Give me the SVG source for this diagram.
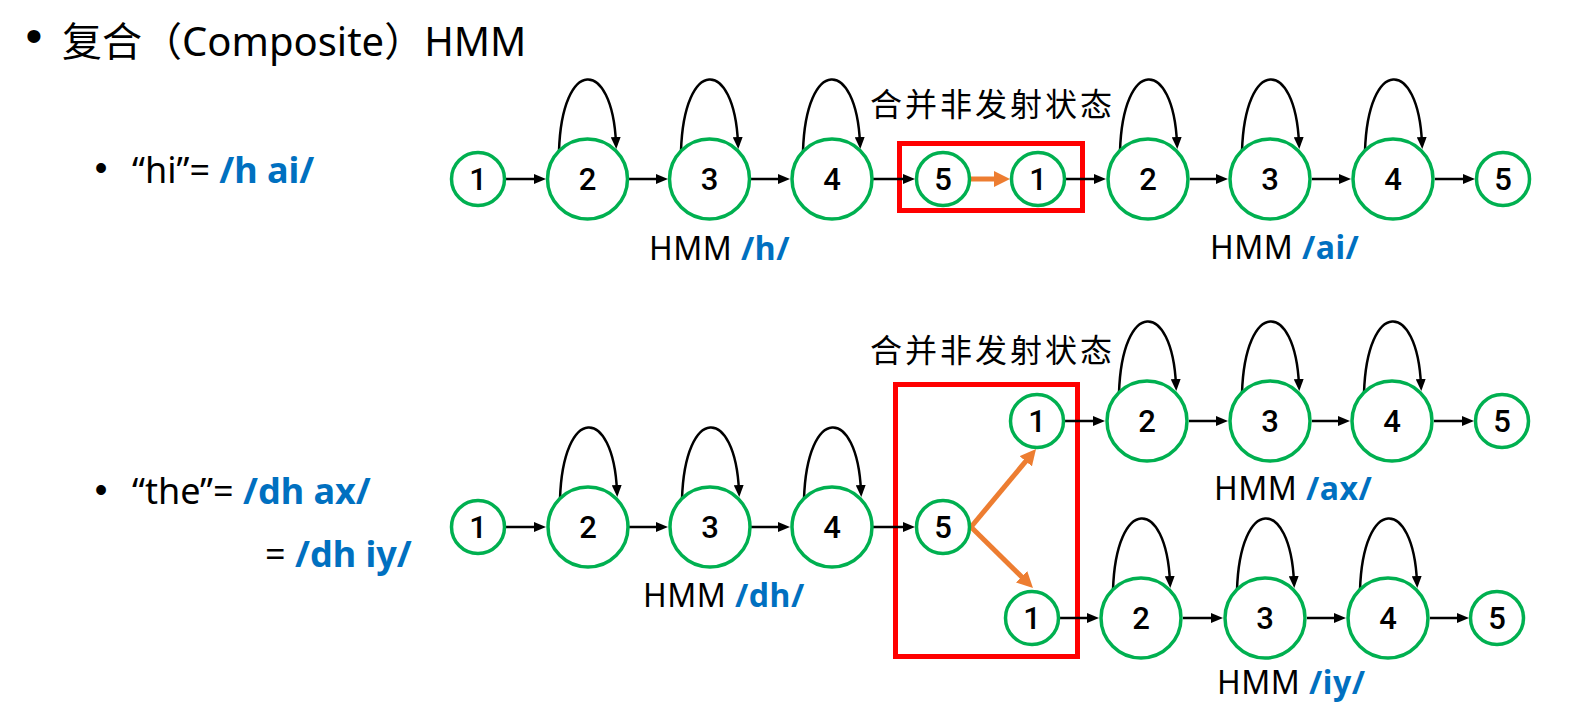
<svg xmlns="http://www.w3.org/2000/svg" width="1573" height="723" viewBox="0 0 1573 723">
<style>
.n{fill:#fff;stroke:#00B050;stroke-width:3.5}
.t{font-family:Roboto,"Liberation Sans",Arial,sans-serif;font-weight:500;font-size:31px;fill:#000;text-anchor:middle}
.e{stroke:#000;stroke-width:2.5;fill:none;marker-end:url(#ab)}
.o{stroke:#ED7D31;stroke-width:5;fill:none;marker-end:url(#ao)}
.box{fill:none;stroke:#FF0000;stroke-width:5}
.tx{font-family:"Noto Sans","Noto Sans CJK SC",sans-serif;fill:#000}
.bu{font-family:"Liberation Sans",Arial,sans-serif;fill:#000;text-anchor:middle}
.cj{font-family:"Noto Sans CJK SC",sans-serif;fill:#000}
.b{fill:#0070C0;font-weight:bold}
.h{font-size:32px;letter-spacing:0.5px}
</style>
<defs>
<marker id="ab" viewBox="0 0 12 10" refX="6" refY="5" markerWidth="12" markerHeight="10" markerUnits="userSpaceOnUse" orient="auto"><path d="M0,0 L12,5 L0,10 z" fill="#000"/></marker>
<marker id="ao" viewBox="0 0 16 16" refX="8" refY="8" markerWidth="16" markerHeight="16" markerUnits="userSpaceOnUse" orient="auto"><path d="M0,0 L16,8 L0,16 z" fill="#ED7D31"/></marker>
</defs>
<rect width="1573" height="723" fill="#fff"/>

<g id="title">
<text class="bu" x="34" y="52" font-size="48">•</text>
<text class="tx" x="62" y="56" font-size="40"><tspan class="cj">复合（</tspan>Composite<tspan class="cj">）</tspan>HMM</text>
</g>
<g id="bullets">
<text class="bu" x="101" y="180" font-size="36">•</text>
<text class="tx" x="132" y="183" font-size="36">“hi”= <tspan class="b">/h ai/</tspan></text>
<text class="bu" x="101" y="502" font-size="36">•</text>
<text class="tx" x="132" y="504" font-size="36">“the”= <tspan class="b">/dh ax/</tspan></text>
<text class="tx" x="265" y="567" font-size="36">= <tspan class="b">/dh iy/</tspan></text>
</g>

<g id="boxes">
<rect class="box" x="899.5" y="143.5" width="183" height="67"/>
<rect class="box" x="895.5" y="384.5" width="182" height="272"/>
</g>

<g id="labels">
<text class="cj" x="870" y="116" font-size="32" letter-spacing="3">合并非发射状态</text>
<text class="cj" x="870" y="362" font-size="32" letter-spacing="3">合并非发射状态</text>
<text class="tx h" x="649" y="260">HMM <tspan class="b">/h/</tspan></text>
<text class="tx h" x="1210" y="259">HMM <tspan class="b">/ai/</tspan></text>
<text class="tx h" x="643" y="607">HMM <tspan class="b">/dh/</tspan></text>
<text class="tx h" x="1214" y="500">HMM <tspan class="b">/ax/</tspan></text>
<text class="tx h" x="1217" y="694">HMM <tspan class="b">/iy/</tspan></text>
</g>

<g id="connectors">
<!-- row 1 -->
<path class="e" d="M506,179 H540"/>
<path class="e" d="M629,179 H662"/>
<path class="e" d="M751,179 H784"/>
<path class="e" d="M873,179 H909"/>
<path class="o" d="M971,179 H1002"/>
<path class="e" d="M1066,179 H1100"/>
<path class="e" d="M1190,179 H1222"/>
<path class="e" d="M1312,179 H1345"/>
<path class="e" d="M1435,179 H1469"/>
<path class="e" d="M559,151 C562,57 612,57 616,143"/>
<path class="e" d="M681,151 C684,57 734,57 738,143"/>
<path class="e" d="M803,151 C806,57 856,57 860,143"/>
<path class="e" d="M1120,151 C1123,57 1173,57 1177,143"/>
<path class="e" d="M1242,151 C1245,57 1295,57 1299,143"/>
<path class="e" d="M1365,151 C1368,57 1418,57 1422,143"/>
<!-- row 2 main -->
<path class="e" d="M506,527 H540"/>
<path class="e" d="M629,527 H662"/>
<path class="e" d="M751,527 H784"/>
<path class="e" d="M873,527 H909"/>
<path class="o" d="M971,527 L1030.9,455.1"/>
<path class="o" d="M971,527 L1027.3,582.4"/>
<path class="e" d="M560,499 C563,405 613,405 617,491"/>
<path class="e" d="M682,499 C685,405 735,405 739,491"/>
<path class="e" d="M804,499 C807,405 857,405 861,491"/>
<!-- upper branch -->
<path class="e" d="M1065,421 H1099"/>
<path class="e" d="M1189,421 H1222"/>
<path class="e" d="M1312,421 H1344"/>
<path class="e" d="M1434,421 H1468"/>
<path class="e" d="M1119,393 C1122,299 1172,299 1176,385"/>
<path class="e" d="M1242,393 C1245,299 1295,299 1299,385"/>
<path class="e" d="M1364,393 C1367,299 1417,299 1421,385"/>
<!-- lower branch -->
<path class="e" d="M1060,618 H1093"/>
<path class="e" d="M1183,618 H1217"/>
<path class="e" d="M1307,618 H1340"/>
<path class="e" d="M1430,618 H1463"/>
<path class="e" d="M1113,590 C1116,496 1166,496 1170,582"/>
<path class="e" d="M1237,590 C1240,496 1290,496 1294,582"/>
<path class="e" d="M1360,590 C1363,496 1413,496 1417,582"/>
</g>

<g id="r1n1"><circle class="n" cx="478" cy="179" r="26.5"/><text class="t" x="478" y="190">1</text></g>
<g id="r1n2"><circle class="n" cx="587.5" cy="179" r="40"/><text class="t" x="587.5" y="190">2</text></g>
<g id="r1n3"><circle class="n" cx="709.5" cy="179" r="40"/><text class="t" x="709.5" y="190">3</text></g>
<g id="r1n4"><circle class="n" cx="832" cy="179" r="40"/><text class="t" x="832" y="190">4</text></g>
<g id="r1n5"><circle class="n" cx="943" cy="179" r="26.5"/><text class="t" x="943" y="190">5</text></g>
<g id="r1m1"><circle class="n" cx="1038" cy="179" r="26.5"/><text class="t" x="1038" y="190">1</text></g>
<g id="r1m2"><circle class="n" cx="1148" cy="179" r="40"/><text class="t" x="1148" y="190">2</text></g>
<g id="r1m3"><circle class="n" cx="1270" cy="179" r="40"/><text class="t" x="1270" y="190">3</text></g>
<g id="r1m4"><circle class="n" cx="1393" cy="179" r="40"/><text class="t" x="1393" y="190">4</text></g>
<g id="r1m5"><circle class="n" cx="1503" cy="179" r="26.5"/><text class="t" x="1503" y="190">5</text></g>

<g id="r2n1"><circle class="n" cx="478" cy="527" r="26.5"/><text class="t" x="478" y="538">1</text></g>
<g id="r2n2"><circle class="n" cx="588" cy="527" r="40"/><text class="t" x="588" y="538">2</text></g>
<g id="r2n3"><circle class="n" cx="710" cy="527" r="40"/><text class="t" x="710" y="538">3</text></g>
<g id="r2n4"><circle class="n" cx="832" cy="527" r="40"/><text class="t" x="832" y="538">4</text></g>
<g id="r2n5"><circle class="n" cx="943" cy="527" r="26.5"/><text class="t" x="943" y="538">5</text></g>

<g id="ax1"><circle class="n" cx="1037" cy="421" r="26.5"/><text class="t" x="1037" y="432">1</text></g>
<g id="ax2"><circle class="n" cx="1147" cy="421" r="40"/><text class="t" x="1147" y="432">2</text></g>
<g id="ax3"><circle class="n" cx="1270" cy="421" r="40"/><text class="t" x="1270" y="432">3</text></g>
<g id="ax4"><circle class="n" cx="1392" cy="421" r="40"/><text class="t" x="1392" y="432">4</text></g>
<g id="ax5"><circle class="n" cx="1502" cy="421" r="26.5"/><text class="t" x="1502" y="432">5</text></g>

<g id="iy1"><circle class="n" cx="1032" cy="618" r="26.5"/><text class="t" x="1032" y="629">1</text></g>
<g id="iy2"><circle class="n" cx="1141" cy="618" r="40"/><text class="t" x="1141" y="629">2</text></g>
<g id="iy3"><circle class="n" cx="1265" cy="618" r="40"/><text class="t" x="1265" y="629">3</text></g>
<g id="iy4"><circle class="n" cx="1388" cy="618" r="40"/><text class="t" x="1388" y="629">4</text></g>
<g id="iy5"><circle class="n" cx="1497" cy="618" r="26.5"/><text class="t" x="1497" y="629">5</text></g>
</svg>
